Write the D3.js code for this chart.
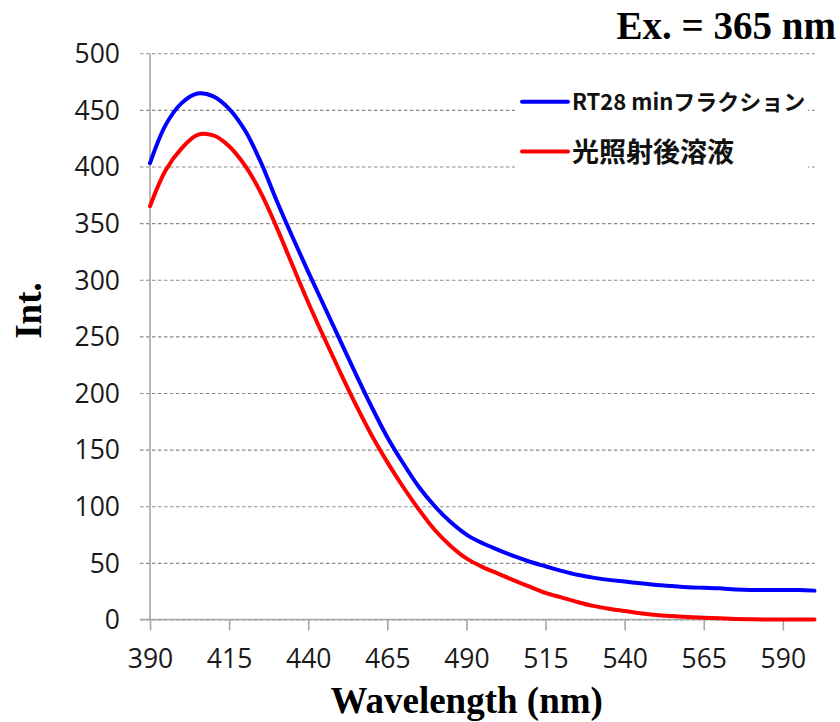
<!DOCTYPE html>
<html>
<head>
<meta charset="utf-8">
<script src="https://cdn.jsdelivr.net/npm/d3@7/dist/d3.min.js"></script>
<style>
  html, body { margin: 0; padding: 0; background: #fff; }
  svg { display: block; }
</style>
</head>
<body>
<svg id="chart" width="840" height="722"></svg>
<script>
// Emission spectra, excitation at 365 nm
const wavelengths = [390, 395, 400, 405, 410, 415, 420, 425, 430, 435, 440, 445, 450, 455, 460,
  465, 470, 475, 480, 485, 490, 495, 500, 505, 510, 515, 520, 525, 530, 535, 540, 545, 550,
  555, 560, 565, 570, 575, 580, 585, 590, 595, 600];

const fractionRT28 = [403, 437, 456, 464.5, 462, 451, 432, 404, 370, 338, 307, 277, 247, 217, 188,
  161, 138, 117, 100, 86, 75, 67.5, 61.5, 56, 51, 47, 43, 39.5, 37, 35, 33.5, 32, 30.5,
  29.5, 28.5, 28, 27.5, 26.5, 26, 26, 26, 26, 25.5];

const irradiatedSolution = [365, 397, 416, 428, 427.5, 418, 401, 377, 346.5, 313, 280, 249, 219, 190, 163,
  139, 117, 97, 79, 65, 54, 46.5, 40.5, 34.5, 29, 23.5, 19.5, 15.5, 12, 9.5, 7.5, 5.5, 4,
  3, 2.2, 1.5, 1, 0.5, 0.2, 0, 0, 0, 0];

const seriesNames = ["RT28 minフラクション", "光照射後溶液"];
const seriesColors = ["#0000ff", "#ff0000"];
const xTicks = [390, 415, 440, 465, 490, 515, 540, 565, 590];
const yTicks = [0, 50, 100, 150, 200, 250, 300, 350, 400, 450, 500];

const svg = d3.select("#chart");
const plotLeft = 150, plotRight = 814.5, plotTop = 53.3, plotBottom = 619.5;

const x = d3.scaleLinear().domain([390, 600]).range([plotLeft, plotRight]);
const y = d3.scaleLinear().domain([0, 500]).range([plotBottom, plotTop]);

const tickFont = "'Open Sans', 'Noto Sans', sans-serif";
const serif = "'Liberation Serif', 'Times New Roman', serif";

// horizontal dashed grid with short outward ticks on the left
const yAxis = d3.axisLeft(y).tickValues(yTicks).tickSize(0).tickPadding(0).tickFormat(d3.format("d"));
const gy = svg.append("g").attr("transform", `translate(${plotLeft - 10},0)`).call(yAxis);
gy.select(".domain").remove();
gy.selectAll(".tick line")
  .attr("x1", 0).attr("x2", plotRight - plotLeft + 10)
  .attr("stroke", "#8a8a8a").attr("stroke-width", 1.1).attr("stroke-dasharray", "3.5,2.5");
gy.selectAll(".tick text")
  .attr("x", -20).attr("dy", "0.35em")
  .style("font-family", tickFont).style("font-size", "26.5px").attr("fill", "#1a1a1a");

// y axis line
svg.append("line")
  .attr("x1", plotLeft).attr("x2", plotLeft).attr("y1", plotTop).attr("y2", plotBottom)
  .attr("stroke", "#a6a6a6").attr("stroke-width", 1.6);

// x axis
const xAxis = d3.axisBottom(x).tickValues(xTicks).tickSize(11).tickPadding(0).tickFormat(d3.format("d"));
const gx = svg.append("g").attr("transform", `translate(0,${plotBottom})`).call(xAxis);
gx.select(".domain").remove();
gx.selectAll(".tick line").attr("stroke", "#a6a6a6").attr("stroke-width", 1.6);
gx.selectAll(".tick text")
  .attr("y", 48.5).attr("dy", 0)
  .style("font-family", tickFont).style("font-size", "26.5px").attr("fill", "#1a1a1a");
svg.append("line")
  .attr("x1", plotLeft - 10).attr("x2", plotRight).attr("y1", plotBottom).attr("y2", plotBottom)
  .attr("stroke", "#a6a6a6").attr("stroke-width", 1.6);

// spectra
const series = [fractionRT28, irradiatedSolution];
const line = d3.line()
  .x((d, i) => x(wavelengths[i]))
  .y(d => y(d))
  .curve(d3.curveCatmullRom.alpha(0.5));

series.forEach((vals, k) => {
  svg.append("path")
    .datum(vals)
    .attr("d", line)
    .attr("fill", "none")
    .attr("stroke", seriesColors[k])
    .attr("stroke-width", 4)
    .attr("stroke-linejoin", "round")
    .attr("stroke-linecap", "round");
});

// legend
const lg = svg.append("g");
lg.append("rect").attr("x", 515).attr("y", 76).attr("width", 293).attr("height", 112).attr("fill", "#fff");
const legendRows = [
  { ly: 101.7, ty: 109.5, size: 22 },
  { ly: 151.5, ty: 161.5, size: 27 }
];
legendRows.forEach((r, k) => {
  lg.append("line")
    .attr("x1", 522).attr("x2", 568).attr("y1", r.ly).attr("y2", r.ly)
    .attr("stroke", seriesColors[k]).attr("stroke-width", 4).attr("stroke-linecap", "round");
  lg.append("text")
    .attr("x", 572).attr("y", r.ty)
    .style("font-family", "'Noto Sans CJK JP', sans-serif")
    .style("font-weight", "bold")
    .style("font-size", r.size + "px")
    .attr("fill", "#111")
    .text(seriesNames[k]);
});

// titles
svg.append("text")
  .attr("x", 836).attr("y", 39.3).attr("text-anchor", "end")
  .style("font-family", serif).style("font-weight", "bold").style("font-size", "39px")
  .attr("fill", "#000").text("Ex. = 365 nm");

svg.append("text")
  .attr("x", 466.7).attr("y", 713).attr("text-anchor", "middle")
  .style("font-family", serif).style("font-weight", "bold").style("font-size", "37px")
  .attr("fill", "#000").text("Wavelength (nm)");

svg.append("text")
  .attr("transform", "translate(40.5,310.5) rotate(-90)")
  .attr("text-anchor", "middle")
  .style("font-family", serif).style("font-weight", "bold").style("font-size", "37px")
  .attr("fill", "#000").text("Int.");
</script>
</body>
</html>
